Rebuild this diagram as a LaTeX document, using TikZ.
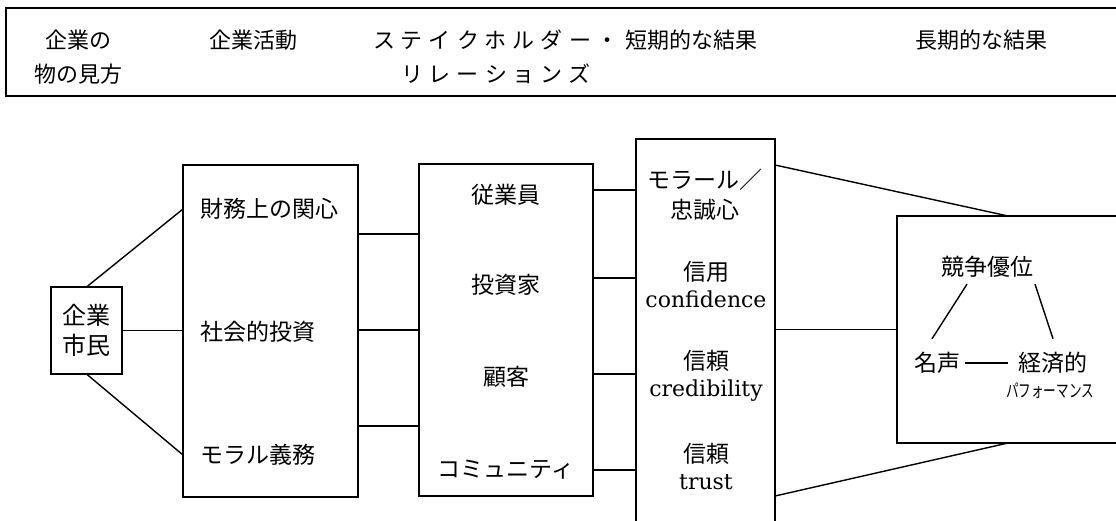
\documentclass[tikz,border=0pt]{standalone}
\usepackage{fontspec}
\usepackage{graphicx}
\newfontfamily\jp{Noto Sans CJK JP}
\newfontfamily\lat{DejaVu Serif}
\usetikzlibrary{calc}
\makeatletter
\newcommand\ltrsp[2]{\def\ltrsp@k{#1}\@tfor\ltrsp@c:=#2\do{\ltrsp@c\kern\ltrsp@k}\unkern}
\makeatother
\begin{document}
\begin{tikzpicture}[x=1pt,y=-1pt,line width=1.4pt,
  every node/.style={inner sep=0pt,outer sep=0pt},
  hdr/.style={font={\jp\fontsize{22}{34}\selectfont},align=center},
  txt/.style={font={\jp\fontsize{23}{30}\selectfont},align=center},
  mix/.style={font={\jp\fontsize{23}{27}\selectfont},align=center},
  box/.style={draw,line width=1.4pt}]
\useasboundingbox (0,0) rectangle (1116,520);
% header frame
\node[box,minimum width=1124pt,minimum height=88pt] (frame) at (568,52) {};
\node[hdr] (h1) at (78,57) {企業の\\物の見方};
\node[hdr] (h2) at (253,40) {企業活動};
\node[hdr] (h3) at (496,57) {\ltrsp{6pt}{ステイクホルダー・}\\\ltrsp{6pt}{リレーションズ}};
\node[hdr] (h4) at (691,40) {短期的な結果};
\node[hdr] (h5) at (981,40) {長期的な結果};
% boxes
\node[box,txt,font={\jp\fontsize{24}{30}\selectfont},minimum width=71pt,minimum height=87pt] (b1) at (86.5,330.5) {企業\\市民};
\node[box,minimum width=175pt,minimum height=332pt] (b2) at (270.5,331) {};
\node[box,minimum width=174pt,minimum height=332pt] (b3) at (506,330) {};
\node[box,minimum width=139pt,minimum height=391pt] (b4) at (705.5,334.5) {};
\node[box,minimum width=233pt,minimum height=227pt] (b5) at (1013.5,329.5) {};
% box 2 texts
\node[txt,anchor=west] (f1) at (200,209) {財務上の関心};
\node[txt,anchor=west] (f2) at (200,332) {社会的投資};
\node[txt,anchor=west] (f3) at (200,455) {モラル義務};
% box 3 texts
\node[txt] (s1) at (506,195) {従業員};
\node[txt] (s2) at (506,285) {投資家};
\node[txt] (s3) at (506,377) {顧客};
\node[txt] (s4) at (506,470) {コミュニティ};
% box 4 texts
\node[txt] (r1) at (705,195) {モラール／\\忠誠心};
\node[mix] (r2) at (706,285) {信用\\{\lat\fontsize{22}{27}\selectfont confidence}};
\node[mix] (r3) at (706,376) {信頼\\{\lat\fontsize{22}{27}\selectfont credibility}};
\node[mix] (r4) at (706,467) {信頼\\{\lat\fontsize{22}{27}\selectfont trust}};
% box 5 texts
\node[txt] (k) at (987,267) {競争優位};
\node[txt] (m) at (937,363) {名声};
\node[txt] (e) at (1053,363) {経済的};
\node (p) at (1050,391) {\scalebox{0.7}[1]{\jp\fontsize{18}{18}\selectfont パフォーマンス}};
% connectors box1 -> box2
\draw (b1.north) -- (b2.west |- f1);
\draw (b1.east) -- (b2.west |- b1.east);
\draw (b1.south) -- (b2.west |- f3);
% box2 -> box3
\coordinate (ya) at (0,234);
\coordinate (yb) at (0,330);
\coordinate (yc) at (0,426);
\draw (b2.east |- ya) -- (b3.west |- ya);
\draw (b2.east |- yb) -- (b3.west |- yb);
\draw (b2.east |- yc) -- (b3.west |- yc);
% box3 -> box4
\coordinate (yd) at (0,190);
\coordinate (ye) at (0,278);
\coordinate (yf) at (0,374);
\coordinate (yg) at (0,470);
\draw (b3.east |- yd) -- (b4.west |- yd);
\draw (b3.east |- ye) -- (b4.west |- ye);
\draw (b3.east |- yf) -- (b4.west |- yf);
\draw (b3.east |- yg) -- (b4.west |- yg);
% box4 -> box5
\coordinate (yh) at (0,165);
\coordinate (yi) at (0,496);
\draw (b4.east |- yh) -- ([xshift=111pt]b5.north west);
\draw (b4.east |- b5.west) -- (b5.west);
\draw (b4.east |- yi) -- ([xshift=111pt]b5.south west);
% inside box5
\draw ([xshift=-20pt,yshift=-6.5pt]k.south) -- ([xshift=-5pt,yshift=13.5pt]m.north);
\draw ([xshift=48pt,yshift=-6.5pt]k.south) -- ([yshift=13.5pt]e.north);
\draw ([xshift=5pt]m.east) -- ([xshift=-10.5pt]e.west);
\end{tikzpicture}
\end{document}
